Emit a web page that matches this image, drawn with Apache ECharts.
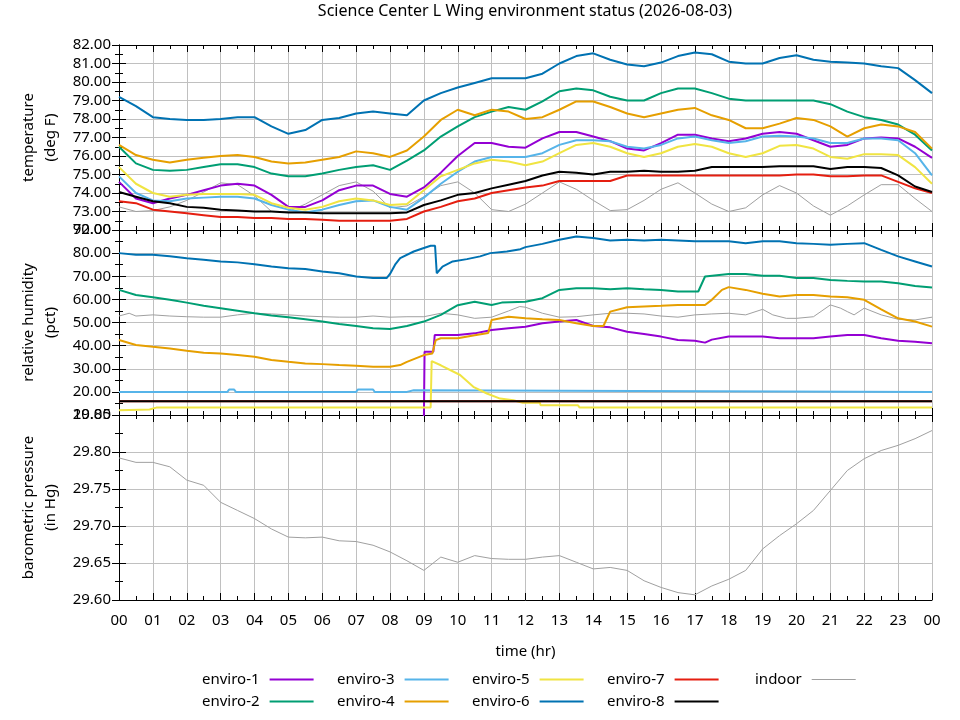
<!DOCTYPE html>
<html>
<head>
<meta charset="utf-8">
<script src="https://cdn.jsdelivr.net/npm/echarts@6/dist/echarts.min.js"></script>
<style>
  html,body{margin:0;padding:0;background:#fff;}
  #chart{width:960px;height:720px;}
</style>
</head>
<body>
<div id="chart"></div>
<script>
// 三层面板：温度 / 相对湿度 / 气压，x 为小时（0-24）
const FONT='"Noto Sans", "DejaVu Sans", sans-serif';
const TITLE='Science Center L Wing environment status (2026-08-03)';

const NAMES=['enviro-1','enviro-2','enviro-3','enviro-4','enviro-5','enviro-6','enviro-7','enviro-8','indoor'];
const COLORS=['#9400d3','#009e73','#56b4e9','#e69f00','#f0e442','#0072b2','#e51e10','#000000','#a0a0a0'];

// 温度：半小时取样
const hours=[0,0.5,1,1.5,2,2.5,3,3.5,4,4.5,5,5.5,6,6.5,7,7.5,8,8.5,9,9.5,10,10.5,11,11.5,12,
  12.5,13,13.5,14,14.5,15,15.5,16,16.5,17,17.5,18,18.5,19,19.5,20,20.5,21,21.5,22,22.5,23,23.5,24];

const tEnviro1=[74.6,73.7,73.45,73.7,73.9,74.15,74.4,74.5,74.4,73.9,73.25,73.25,73.6,74.15,74.4,74.4,73.95,73.8,74.3,75.1,
  76.0,76.7,76.7,76.5,76.45,76.95,77.3,77.3,77.05,76.8,76.4,76.3,76.7,77.15,77.15,76.95,76.8,76.95,77.2,77.3,
  77.2,76.85,76.5,76.6,76.95,77.0,76.95,76.5,75.9];
const tEnviro2=[76.5,75.6,75.25,75.2,75.25,75.4,75.55,75.55,75.4,75.05,74.9,74.9,75.05,75.25,75.4,75.5,75.25,75.75,76.3,77.05,
  77.6,78.1,78.4,78.65,78.5,78.95,79.5,79.65,79.55,79.2,79.0,79.0,79.4,79.65,79.65,79.4,79.1,79.0,79.0,79.0,
  79.0,79.0,78.8,78.4,78.1,77.95,77.7,77.15,76.3];
const tEnviro3=[74.9,74.0,73.6,73.55,73.7,73.75,73.8,73.8,73.7,73.35,73.1,72.95,73.1,73.35,73.55,73.6,73.25,73.1,73.75,74.5,
  75.15,75.7,75.95,75.95,75.95,76.15,76.6,76.85,76.85,76.8,76.5,76.4,76.6,76.95,77.05,76.85,76.7,76.8,77.05,77.1,
  77.05,76.95,76.7,76.7,76.95,76.95,76.85,76.15,74.95];
const tEnviro4=[76.6,76.05,75.8,75.65,75.8,75.9,76.0,76.05,75.95,75.7,75.6,75.65,75.8,75.95,76.25,76.15,75.95,76.3,77.05,77.95,
  78.5,78.2,78.5,78.4,78.0,78.1,78.5,78.95,78.95,78.65,78.3,78.1,78.3,78.5,78.6,78.2,77.95,77.5,77.5,77.75,
  78.05,77.95,77.6,77.05,77.5,77.7,77.6,77.3,76.4];
const tEnviro5=[75.4,74.5,74.0,73.8,73.9,73.95,73.95,73.95,73.9,73.45,73.2,73.1,73.25,73.55,73.7,73.6,73.35,73.4,74.15,74.9,
  75.25,75.6,75.8,75.7,75.5,75.7,76.15,76.6,76.7,76.5,76.15,75.95,76.15,76.5,76.65,76.5,76.15,75.95,76.15,76.55,
  76.6,76.4,75.95,75.85,76.1,76.1,76.05,75.4,74.5];
const tEnviro6=[79.2,78.7,78.1,78.0,77.95,77.95,78.0,78.1,78.1,77.6,77.2,77.4,77.95,78.05,78.3,78.4,78.3,78.2,79.0,79.4,
  79.7,79.95,80.2,80.2,80.2,80.45,81.0,81.4,81.55,81.2,80.95,80.85,81.05,81.4,81.6,81.5,81.1,81.0,81.0,81.3,
  81.45,81.2,81.1,81.05,81.0,80.85,80.75,80.1,79.4];
const tEnviro7=[73.55,73.45,73.1,73.0,72.9,72.8,72.7,72.7,72.65,72.65,72.6,72.6,72.55,72.5,72.5,72.5,72.5,72.6,73.0,73.25,
  73.55,73.7,74.0,74.15,74.3,74.4,74.65,74.65,74.65,74.65,74.95,74.95,74.95,74.95,74.95,74.95,74.95,74.95,74.95,74.95,
  75.0,75.0,74.9,74.9,74.95,74.95,74.6,74.25,74.0];
const tEnviro8=[74.05,73.8,73.55,73.45,73.25,73.2,73.1,73.05,73.0,73.0,72.95,72.95,72.9,72.9,72.9,72.9,72.9,72.95,73.35,73.6,
  73.9,74.0,74.25,74.45,74.65,74.95,75.15,75.1,75.0,75.15,75.15,75.2,75.15,75.15,75.2,75.4,75.4,75.4,75.4,75.45,
  75.45,75.45,75.3,75.4,75.4,75.35,74.95,74.35,74.05];
const tIndoor=[73.25,73.0,73.05,73.25,73.6,74.05,74.55,74.45,73.85,73.0,73.0,73.4,73.9,74.4,74.6,74.1,73.2,73.3,73.8,74.4,
  74.6,74.0,73.1,73.0,73.4,74.0,74.6,74.2,73.6,73.05,73.1,73.6,74.2,74.55,74.0,73.4,73.0,73.2,73.9,74.4,
  74.0,73.3,72.8,73.3,73.9,74.45,74.45,73.7,73.0];

// 相对湿度：[小时, 值]，转折处取点
const rhEnviro1=[[9.0,8],[9.02,37.4],[9.28,37.4],[9.32,44.6],[10,44.6],[10.5,45.3],[11,46.8],[11.5,47.5],[12,48.2],
  [12.5,49.7],[13,50.4],[13.5,51.1],[14,48.5],[14.5,47.9],[15,46.0],[15.5,45.0],[16,43.9],[16.5,42.4],[17,42.1],
  [17.3,41.3],[17.5,42.6],[18,43.9],[18.5,43.9],[19,43.9],[19.5,43.2],[20,43.2],[20.5,43.2],[21,43.9],[21.5,44.6],
  [22,44.6],[22.5,43.2],[23,42.1],[23.5,41.7],[24,41.0]];
const rhEnviro2=[[0,64.1],[0.5,61.9],[1,60.9],[1.5,59.8],[2,58.6],[2.5,57.2],[3,56.2],[3.5,55.1],[4,54.0],[4.5,53.0],
  [5,52.3],[5.5,51.4],[6,50.4],[6.5,49.4],[7,48.5],[7.5,47.5],[8,47.2],[8.5,48.5],[9,50.4],[9.5,53.3],[10,57.5],
  [10.5,59.0],[11,57.6],[11.3,58.6],[12,59.0],[12.5,60.5],[13,64.1],[13.5,64.8],[14,64.8],[14.5,64.4],[15,64.8],
  [15.5,64.4],[16,64.1],[16.5,63.4],[17.1,63.4],[17.3,69.9],[18,71.0],[18.5,71.0],[19,70.2],[19.5,70.2],[20,69.2],
  [20.5,69.2],[21,68.4],[21.5,68.0],[22,67.7],[22.5,67.7],[23,67.0],[23.5,65.8],[24,65.1]];
const rhEnviro3=[[0,20],[3.2,20],[3.25,21],[3.4,21],[3.45,20],[7,20],[7.05,21],[7.5,21],[7.55,20],[8.5,20],
  [8.55,20.7],[8.7,20.7],[8.75,20],[24,20]];
const rhEnviro4=[[0,42.4],[0.5,40.3],[1,39.5],[1.5,38.8],[2,37.8],[2.5,36.9],[3,36.6],[3.5,35.9],[4,35.2],[4.5,33.8],
  [5,33.0],[5.5,32.3],[6,32.0],[6.5,31.6],[7,31.3],[7.5,30.9],[8,30.9],[8.3,31.6],[8.5,33.0],[9,35.9],[9.25,36.6],
  [9.35,42.4],[9.5,43.2],[10,43.2],[10.5,44.5],[10.9,45.5],[11,51.1],[11.5,52.5],[12,51.8],[12.5,51.4],[13,51.1],
  [13.5,49.7],[14,48.5],[14.3,48.5],[14.5,54.7],[15,56.6],[15.5,56.9],[16,57.2],[16.5,57.6],[17.3,57.6],[17.5,59.8],
  [17.8,64.1],[18,65.3],[18.5,64.1],[19,62.4],[19.5,61.2],[20,61.9],[20.5,61.9],[21,61.2],[21.5,60.9],[22,59.8],
  [22.5,55.7],[23,51.8],[23.5,50.4],[24,48.2]];
const rhEnviro5=[[0,12.1],[0.9,12.4],[1.1,13.2],[9.2,13.2],[9.23,33.3],[9.5,31.5],[10.07,27.3],[10.46,22.2],
  [10.86,19.3],[11.25,17.1],[11.64,16.4],[11.92,15.3],[12.42,15.3],[12.45,14.2],[13.55,14.2],[13.6,13.2],[24,13.2]];
const rhEnviro6=[[0,80.0],[0.5,79.3],[1,79.3],[1.5,78.6],[2,77.8],[2.5,77.1],[3,76.4],[3.5,76.0],[4,75.2],[4.5,74.2],
  [5,73.5],[5.5,73.1],[6,72.1],[6.5,71.3],[7,69.9],[7.5,69.2],[7.9,69.2],[8.0,71.0],[8.15,75.0],[8.3,77.8],[8.7,80.7],
  [9.0,82.2],[9.2,83.2],[9.33,83.2],[9.38,71.3],[9.55,74.2],[9.85,76.4],[10.27,77.4],[10.66,78.6],[10.96,80.0],
  [11.45,80.7],[11.85,81.7],[12,82.6],[12.5,84.0],[13,85.8],[13.5,87.2],[14,86.5],[14.5,85.5],[15,85.8],[15.5,85.5],
  [16,85.8],[16.5,85.5],[17,85.1],[17.5,85.1],[18,85.1],[18.5,84.3],[19,85.1],[19.5,85.1],[20,84.3],[20.5,84.0],
  [21,83.6],[21.5,84.0],[22,84.3],[22.5,81.4],[23,78.6],[23.5,76.4],[24,74.2]];
const rhEnviro7=[[0,16],[24,16]];
const rhEnviro8=[[0,16],[24,16]];
const rhIndoor=[[0,52.8],[0.3,54.0],[0.5,52.8],[1,53.3],[1.5,52.8],[2,52.5],[2.5,52.3],[3,52.3],[3.5,53.3],[4,54.0],
  [4.5,53.7],[5,53.3],[5.5,52.8],[6,52.5],[6.5,52.3],[7,52.3],[7.5,52.8],[8,52.3],[8.5,52.5],[9,52.5],[9.5,54.0],
  [10,53.3],[10.5,51.8],[11,52.3],[11.5,55.0],[11.83,56.9],[12,56.6],[12.5,54.0],[13,52.3],[13.5,52.5],[14,53.3],
  [14.5,54.0],[15,54.0],[15.5,53.7],[16,52.8],[16.5,52.3],[17,53.3],[17.5,53.7],[18,54.0],[18.5,53.3],[19,55.7],
  [19.3,53.3],[19.7,51.8],[20,51.8],[20.5,52.5],[21,57.6],[21.3,56.2],[21.5,54.7],[21.7,53.3],[22,56.2],[22.5,53.3],
  [23,51.4],[23.5,51.1],[24,52.3]];

// 气压（室内）：半小时取样
const pIndoor=[29.792,29.786,29.786,29.780,29.762,29.755,29.732,29.721,29.710,29.696,29.685,29.684,29.685,29.680,29.679,
  29.674,29.665,29.653,29.640,29.658,29.651,29.660,29.656,29.655,29.655,29.658,29.660,29.651,29.642,29.644,29.640,
  29.626,29.617,29.610,29.607,29.619,29.628,29.640,29.669,29.687,29.703,29.721,29.748,29.775,29.791,29.802,29.809,
  29.818,29.829];

const TEMP=[tEnviro1,tEnviro2,tEnviro3,tEnviro4,tEnviro5,tEnviro6,tEnviro7,tEnviro8,tIndoor];
const RH=[rhEnviro1,rhEnviro2,rhEnviro3,rhEnviro4,rhEnviro5,rhEnviro6,rhEnviro7,rhEnviro8,rhIndoor];

const PANELS=[
  {name:'temperature\n(deg F)',min:72,max:82,interval:1,top:45},
  {name:'relative humidity\n(pct)',min:10,max:90,interval:10,top:230},
  {name:'barometric pressure\n(in Hg)',min:29.6,max:29.85,interval:0.05,top:415},
];
const PH=185;

const chart=echarts.init(document.getElementById('chart'),null,{renderer:'canvas'});
const hh=v=>v===24?'00':String(v).padStart(2,'0');
const tick={show:true,inside:true,length:7,lineStyle:{color:'#000'}};
const minor={show:true,splitNumber:2,length:4,lineStyle:{color:'#000'}};

const grid=[], xAxis=[], yAxis=[];
PANELS.forEach((p,i)=>{
  grid.push({left:119,right:28,top:p.top,height:PH});
  const last=i===PANELS.length-1;
  xAxis.push({type:'value',gridIndex:i,min:0,max:24,interval:1,position:'bottom',
    axisLine:{lineStyle:{color:'#000',width:1}},axisTick:tick,minorTick:minor,
    splitLine:{show:true,lineStyle:{color:'#c0c0c0',width:1}},
    axisLabel:{show:last,formatter:hh,fontSize:15,fontFamily:FONT,color:'#000',margin:13},
    name:last?'time (hr)':'',nameLocation:'middle',nameGap:44,
    nameTextStyle:{fontSize:15,fontFamily:FONT,color:'#000'}});
  xAxis.push({type:'value',gridIndex:i,min:0,max:24,interval:1,position:'top',
    axisLine:{lineStyle:{color:'#000',width:1}},axisTick:tick,minorTick:minor,
    splitLine:{show:false},axisLabel:{show:false}});
  yAxis.push({type:'value',gridIndex:i,min:p.min,max:p.max,interval:p.interval,position:'left',
    axisLine:{show:true,lineStyle:{color:'#000',width:1}},axisTick:tick,minorTick:minor,
    splitLine:{show:true,lineStyle:{color:'#c0c0c0',width:1}},
    axisLabel:{formatter:v=>v.toFixed(2),fontSize:15,fontFamily:FONT,color:'#000',margin:8},
    name:p.name,nameLocation:'middle',nameRotate:90,nameGap:56,
    nameTextStyle:{fontSize:15,fontFamily:FONT,color:'#000',lineHeight:22,align:'center'}});
  yAxis.push({type:'value',gridIndex:i,min:p.min,max:p.max,interval:p.interval,position:'right',
    axisLine:{show:true,lineStyle:{color:'#000',width:1}},axisTick:tick,minorTick:minor,
    splitLine:{show:false},axisLabel:{show:false}});
});

function line(name,k,idx,data){
  const indoor=name==='indoor';
  return {name,type:'line',xAxisIndex:idx*2,yAxisIndex:idx*2,data,
    showSymbol:false,symbol:'none',animation:false,clip:true,z:indoor?1:2,
    lineStyle:{width:indoor?1:2,color:COLORS[k]},itemStyle:{color:COLORS[k]}};
}
const series=[];
NAMES.forEach((n,k)=>series.push(line(n,k,0,hours.map((h,i)=>[h,TEMP[k][i]]))));
NAMES.forEach((n,k)=>series.push(line(n,k,1,RH[k])));
series.push(line('indoor',8,2,hours.map((h,i)=>[h,pIndoor[i]])));

// 图例：每列两项，文字在左、线样在右
const legBase={orient:'vertical',align:'right',icon:'rect',itemWidth:44,itemHeight:2,itemGap:7,
  selectedMode:false,top:672,padding:0,textStyle:{fontSize:15,fontFamily:FONT,color:'#000',padding:[0,5,0,0]}};
const legend=[
  {...legBase,left:202,data:['enviro-1','enviro-2']},
  {...legBase,left:337,data:['enviro-3','enviro-4']},
  {...legBase,left:472,data:['enviro-5','enviro-6']},
  {...legBase,left:607,data:['enviro-7','enviro-8']},
  {...legBase,left:755,itemHeight:1,data:['indoor']},
];

chart.setOption({
  backgroundColor:'#fff',
  animation:false,
  title:{text:TITLE,left:525,top:3,textAlign:'center',padding:0,
    textStyle:{fontSize:16,fontWeight:'normal',fontFamily:FONT,color:'#000'}},
  legend,grid,xAxis,yAxis,series,
});
</script>
</body>
</html>
